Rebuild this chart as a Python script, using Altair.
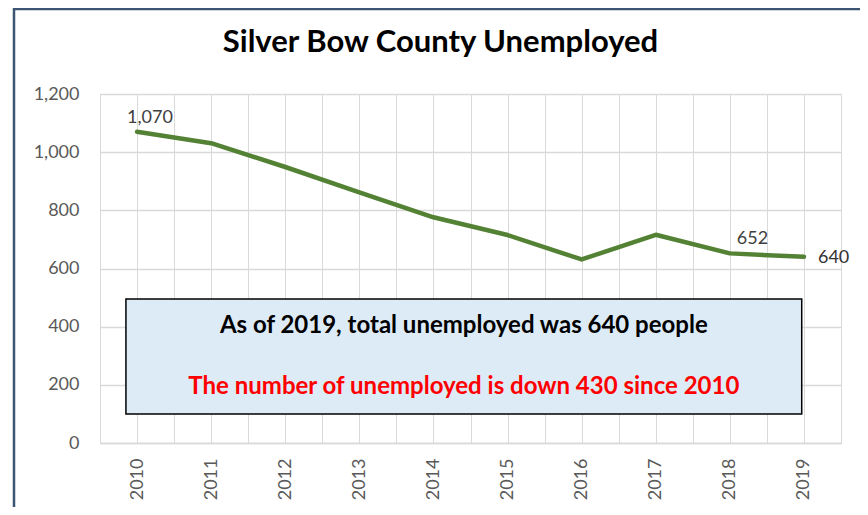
import altair as alt
import pandas as pd

years = [2010, 2011, 2012, 2013, 2014, 2015, 2016, 2017, 2018, 2019]
unemployed = [1070, 1031, 949, 862, 776, 715, 631, 716, 652, 640]
y_ticks = [0, 200, 400, 600, 800, 1000, 1200]
x_grid = [2009.5 + 0.5 * i for i in range(21)]

title_text = "Silver Bow County Unemployed"
note_line1 = "As of 2019,  total unemployed was 640  people"
note_line2 = "The number of unemployed is down 430 since 2010"

# annotation box (data coordinates)
box = pd.DataFrame([{"year": 2009.85, "x2": 2018.97, "value": 100, "y2": 495}])
notes = pd.DataFrame([
    {"year": 2014.41, "value": 402, "t": note_line1, "c": "line1"},
    {"year": 2014.41, "value": 192, "t": note_line2, "c": "line2"},
])

df = pd.DataFrame({"year": years, "value": unemployed})

FONT = "Lato"
xscale = alt.Scale(domain=[2009.5, 2019.5], nice=False, zero=False)
yscale = alt.Scale(domain=[0, 1200], nice=False)

xax = alt.Axis(
    values=x_grid, title=None, grid=True, gridColor="#D9D9D9", gridWidth=1,
    ticks=False, domain=True, domainColor="#D9D9D9", domainWidth=1.5,
    labelAngle=-90, labelPadding=15, labelFontSize=18, labelFont=FONT,
    labelColor="#595959", labelOverlap=False, labelFlush=False,
    labelExpr="datum.value % 1 === 0 ? toString(datum.value) : ''",
)
yax = alt.Axis(
    values=y_ticks, title=None, grid=True, gridColor="#D9D9D9", gridWidth=1.5,
    ticks=False, domain=False, labelPadding=21, labelFontSize=18,
    labelFont=FONT, labelColor="#595959",
    labelExpr="format(datum.value, ',')",
)

X = alt.X("year:Q", scale=xscale, axis=xax)
Y = alt.Y("value:Q", scale=yscale, axis=yax)

base = alt.Chart(df)

line = base.mark_line(color="#548235", strokeWidth=4.5, strokeCap="round", strokeJoin="round").encode(
    x=X, y=Y
)

lab_first = base.transform_filter(alt.datum.year == 2010).mark_text(
    align="left", baseline="bottom", dx=-10, dy=-5, fontSize=18, font=FONT, color="#404040"
).encode(x=X, y=Y, text=alt.Text("value:Q", format=","))

lab_2018 = base.transform_filter(alt.datum.year == 2018).mark_text(
    align="left", baseline="bottom", dx=7, dy=-5, fontSize=18, font=FONT, color="#404040"
).encode(x=X, y=Y, text=alt.Text("value:Q", format=","))

lab_last = base.transform_filter(alt.datum.year == 2019).mark_text(
    align="left", baseline="middle", dx=14, dy=1, fontSize=18, font=FONT, color="#333333"
).encode(x=X, y=Y, text=alt.Text("value:Q", format=","))

box_mark = alt.Chart(box).mark_rect(fill="#DDEBF7", stroke="#000000", strokeWidth=1.5).encode(
    x=X, x2="x2", y=Y, y2="y2"
)

note_marks = alt.Chart(notes).mark_text(
    fontSize=24, font=FONT, fontWeight="bold", baseline="middle", align="center"
).encode(
    x=X, y=Y, text="t:N",
    color=alt.Color("c:N", scale=alt.Scale(domain=["line1", "line2"], range=["#000000", "#FF0000"]), legend=None),
)

frame = alt.Chart(pd.DataFrame([{"k": 1}])).mark_rect(
    fill="transparent", stroke="#3B5573", strokeWidth=2.5
).encode(x=alt.value(-86), x2=alt.value(763), y=alt.value(-85), y2=alt.value(440))

chart = alt.layer(line, box_mark, note_marks, lab_first, lab_2018, lab_last, frame).properties(
    width=741, height=349,
    title=alt.TitleParams(
        title_text, font=FONT, fontSize=31, fontWeight="bold", color="#000000",
        anchor="middle", frame="group", dx=-30, offset=-75, baseline="alphabetic",
    ),
    autosize=alt.AutoSizeParams(type="none"),
    padding={"left": 92, "top": 86, "right": 19, "bottom": 64},
).configure_view(stroke=None).configure(background="white")

chart.save("out.html", embed_options={"renderer": "svg", "actions": False})
